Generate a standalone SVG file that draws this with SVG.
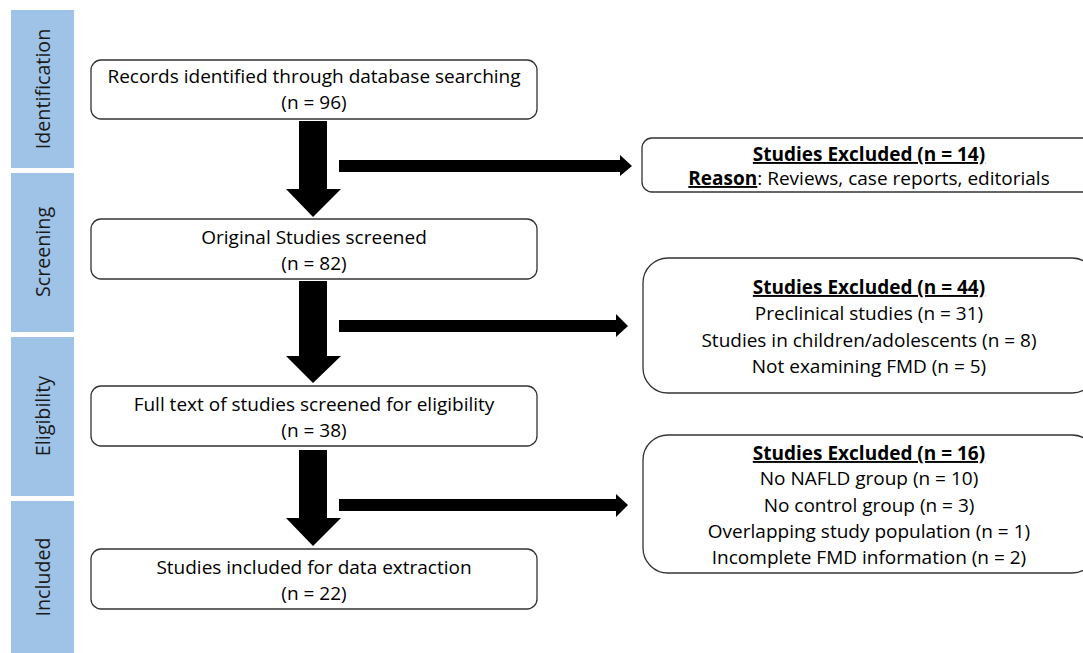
<svg xmlns="http://www.w3.org/2000/svg" width="1083" height="653" viewBox="0 0 1083 653">
<style>
.band{fill:#9fc3e7}
.bl{font-family:"Open Sans",Lato,sans-serif;font-size:19.7px;fill:#1a1a1a;text-anchor:middle}
.box{fill:#fff;stroke:#333;stroke-width:1.3}
.t{font-family:"Open Sans",Lato,sans-serif;font-size:19px;fill:#000;text-anchor:middle}
.b{font-weight:bold;text-decoration:underline}
.arr{fill:#000}
</style>
<rect width="1083" height="653" fill="#fff"/>
<g id="stages">
<g id="stage-identification"><rect class="band" x="11" y="10" width="63" height="158"/><text class="bl" transform="translate(50,89) rotate(-90)">Identification</text></g>
<g id="stage-screening"><rect class="band" x="11" y="173" width="63" height="159"/><text class="bl" transform="translate(50,252) rotate(-90)">Screening</text></g>
<g id="stage-eligibility"><rect class="band" x="11" y="337" width="63" height="159"/><text class="bl" transform="translate(50,416) rotate(-90)">Eligibility</text></g>
<g id="stage-included"><rect class="band" x="11" y="501" width="63" height="152"/><text class="bl" transform="translate(50,577) rotate(-90)">Included</text></g>
</g>
<g id="connectors">
<polygon class="arr" points="299,121 327,121 327,189 341,189 313,217 286,189 299,189"/>
<polygon class="arr" points="299,281 327,281 327,356 341,356 313,383 286,356 299,356"/>
<polygon class="arr" points="299,450 327,450 327,518 341,518 313,546 286,518 299,518"/>
<polygon class="arr" points="339,160 620,160 620,155 632,166 620,176 620,172 339,172"/>
<polygon class="arr" points="339,320 616,320 616,314 628,326 616,337 616,332 339,332"/>
<polygon class="arr" points="339,499 616,499 616,494 628,505 616,517 616,511 339,511"/>
</g>
<g id="n1"><rect class="box" x="91" y="60" width="446" height="59" rx="10"/><text class="t" x="314" y="83">Records identified through database searching</text><text class="t" x="314" y="109">(n = 96)</text></g>
<g id="n2"><rect class="box" x="91" y="219" width="446" height="60" rx="10"/><text class="t" x="314" y="244">Original Studies screened</text><text class="t" x="314" y="270">(n = 82)</text></g>
<g id="n3"><rect class="box" x="91" y="386" width="446" height="60" rx="10"/><text class="t" x="314" y="411">Full text of studies screened for eligibility</text><text class="t" x="314" y="437">(n = 38)</text></g>
<g id="n4"><rect class="box" x="91" y="549" width="446" height="60" rx="10"/><text class="t" x="314" y="574">Studies included for data extraction</text><text class="t" x="314" y="600">(n = 22)</text></g>
<g id="e1"><rect class="box" x="642" y="138" width="454" height="54" rx="10"/><text class="t" x="869" y="161"><tspan class="b">Studies Excluded (n = 14)</tspan></text><text class="t" x="869" y="185"><tspan class="b">Reason</tspan>: Reviews, case reports, editorials</text></g>
<g id="e2"><rect class="box" x="643" y="258" width="454" height="135" rx="25"/><text class="t" x="869" y="294"><tspan class="b">Studies Excluded (n = 44)</tspan></text><text class="t" x="869" y="320">Preclinical studies (n = 31)</text><text class="t" x="869" y="347">Studies in children/adolescents (n = 8)</text><text class="t" x="869" y="373">Not examining FMD (n = 5)</text></g>
<g id="e3"><rect class="box" x="643" y="435" width="454" height="138" rx="25"/><text class="t" x="869" y="460"><tspan class="b">Studies Excluded (n = 16)</tspan></text><text class="t" x="869" y="485">No NAFLD group (n = 10)</text><text class="t" x="869" y="512">No control group (n = 3)</text><text class="t" x="869" y="538">Overlapping study population (n = 1)</text><text class="t" x="869" y="564">Incomplete FMD information (n = 2)</text></g>
</svg>
